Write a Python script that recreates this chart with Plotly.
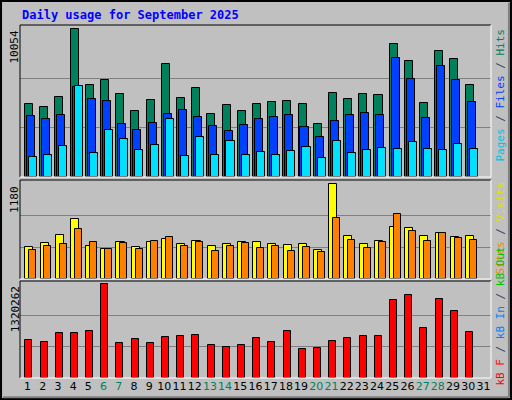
import plotly.graph_objects as go

days = list(range(1, 32))
hits = [4982,4776,5461,10054,6284,6558,5667,4501,5256,7655,5393,6078,4296,4913,4501,4982,5119,5187,4982,3610,5736,5324,5667,5598,9026,7861,5050,8546,7998,6284]
files = [4159,3953,4227,6147,5324,5187,3610,3199,3679,4296,4570,4090,3473,3130,3542,3953,4090,4227,3405,2719,3816,4227,4364,4227,8066,6627,4022,7518,6558,5119]
pages = [1348,1485,2102,6215,1622,3199,2582,1828,2171,3953,1417,2719,1485,2445,1485,1691,1485,1759,2034,1280,2445,1622,1828,1965,1897,2376,1897,1828,2239,1897]
visits = [398,449,551,744,410,372,462,398,462,500,436,475,410,436,462,462,436,423,436,359,1180,539,436,475,654,641,539,577,526,539]
sites = [359,410,436,628,462,372,449,372,475,526,410,462,346,410,449,385,410,346,398,333,757,487,385,462,808,603,475,577,513,487]
kbytes = [539600,510700,640800,640800,669700,1320262,496300,554100,496300,583000,597400,611900,467300,438400,467300,568500,510700,669700,409500,424000,525200,568500,597400,597400,1103300,1175600,698600,1117800,944300,655200]
weekends = {6, 7, 13, 14, 20, 21, 27, 28}
title = "Daily usage for September 2025"

x = days[:30]
fig = go.Figure()
ln = dict(color="black", width=1)
def bar(y, color, off, w, xa, ya):
    fig.add_trace(go.Bar(x=x, y=y, marker=dict(color=color, line=ln), offset=off, width=w,
                         xaxis=xa, yaxis=ya, showlegend=False, hoverinfo="skip"))

bar(hits, "#00805c", -0.17, 0.53, "x", "y")
bar(files, "#0040ff", -0.04, 0.53, "x", "y")
bar(pages, "#00e0ff", 0.09, 0.53, "x", "y")
bar(visits, "#ffff00", -0.15, 0.53, "x2", "y2")
bar(sites, "#ff8000", 0.11, 0.46, "x2", "y2")
bar(kbytes, "#ff0000", -0.15, 0.46, "x3", "y3")

xd = [20/512, 491/512]
doms = [[0.5575, 0.9375], [0.3025, 0.55], [0.055, 0.2975]]
maxes = [max(hits), max(visits), max(kbytes)]
tops = [maxes[0]*151/147, maxes[1]*96/91.7, maxes[2]*95/91.7]
ticktext = [f'<span style="color:{"#00805c" if d in weekends else "black"}">{d}</span>' for d in days]
for i, sfx in enumerate(["", "2", "3"]):
    fig.layout["xaxis" + sfx] = dict(domain=xd, range=[0.5, 31.5], showgrid=False, zeroline=False,
        anchor="y" + sfx, tickvals=days, ticktext=ticktext, showticklabels=(i == 2), ticks="",
        tickangle=0, tickfont=dict(family="DejaVu Sans", size=11, color="black"), fixedrange=True)
    fig.layout["yaxis" + sfx] = dict(domain=doms[i], range=[0, tops[i]], tickvals=[maxes[i]/3, maxes[i]*2/3],
        showticklabels=False, gridcolor="#808080", gridwidth=1, zeroline=False, anchor="x" + sfx, fixedrange=True)
    y0, y1 = doms[i]
    fig.add_shape(type="line", xref="paper", yref="paper", x0=xd[0], x1=xd[1], y0=y1, y1=y1, line=dict(color="black", width=1))
    fig.add_shape(type="line", xref="paper", yref="paper", x0=xd[0], x1=xd[0], y0=y0, y1=y1, line=dict(color="black", width=1))
    fig.add_shape(type="line", xref="paper", yref="paper", x0=xd[0], x1=xd[1], y0=y0, y1=y0, line=dict(color="white", width=1))
    fig.add_shape(type="line", xref="paper", yref="paper", x0=xd[1], x1=xd[1], y0=y0, y1=y1, line=dict(color="white", width=1))
    fig.add_annotation(text=str(maxes[i]), xref="paper", yref="paper", x=15/512, y=y0 + (y1 - y0)*maxes[i]/tops[i],
        textangle=-90, xanchor="center", yanchor="top", showarrow=False,
        font=dict(family="DejaVu Sans Mono", size=11, color="black"))

# outer frame
fig.add_shape(type="rect", xref="paper", yref="paper", x0=0.002, x1=0.998, y0=0.0025, y1=0.9975, line=dict(color="black", width=2))
fig.add_shape(type="line", xref="paper", yref="paper", x0=0.006, x1=0.994, y0=0.007, y1=0.007, line=dict(color="#808080", width=2))
fig.add_shape(type="line", xref="paper", yref="paper", x0=0.994, x1=0.994, y0=0.007, y1=0.993, line=dict(color="#808080", width=2))

f = dict(family="DejaVu Sans Mono", size=11)
def side(text, y):
    fig.add_annotation(text=text, xref="paper", yref="paper", x=500/512, y=y, textangle=-90,
        xanchor="center", yanchor="top", showarrow=False, font=f)
side('<span style="color:#00c0e0">Pages</span> / <span style="color:#0040ff">Files</span> / <span style="color:#00805c">Hits</span>', 1 - 27/400)
side('<span style="color:#ff8000">Sites</span> / <span style="color:#e0e000">Visits</span>', 1 - 180/400)
side('<span style="color:#ff0000">kB F</span> / <span style="color:#0080ff">kB In</span> / <span style="color:#00c000">kB Out</span>', 1 - 245/400)

fig.add_annotation(text="<b>" + title + "</b>", xref="paper", yref="paper", x=20/512, y=1 - 15/400,
    xanchor="left", yanchor="middle", showarrow=False, font=dict(family="DejaVu Sans Mono", size=12, color="#0000ff"))

fig.update_layout(width=512, height=400, margin=dict(l=0, r=0, t=0, b=0), paper_bgcolor="#c0c0c0",
    plot_bgcolor="#c0c0c0", barmode="overlay", bargap=0)
fig.write_html("out.html", config={"displayModeBar": False},
    post_script="document.body.style.margin='0';document.body.style.overflow='hidden';")
